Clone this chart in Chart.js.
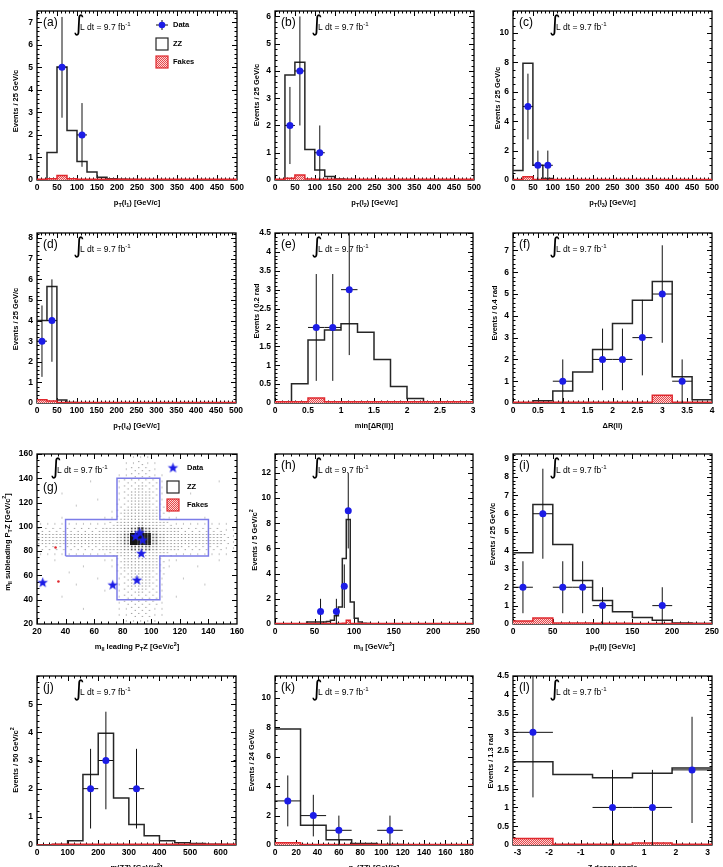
<!DOCTYPE html>
<html lang="en">
<head>
<meta charset="UTF-8">
<title>ZZ candidate kinematic distributions</title>
<script src="https://cdn.jsdelivr.net/npm/chart.js@4.4.1/dist/chart.umd.min.js"></script>
<style>
  body { margin: 0; background: #fff; }
  #page { position: relative; width: 723px; height: 867px; overflow: hidden; background: #fff; }
  #page canvas { position: absolute; }
</style>
</head>
<body>
<div id="page"></div>
<script>
// ---------- data ----------
const ptEdges = [0,25,50,75,100,125,150,175,200,225,250,275,300,325,350,375,400,425,450,475,500];
const ptTicks = [0,50,100,150,200,250,300,350,400,450,500];

// (a) pT(l1)
const aZZ    = [0,1.22,5.02,2.2,0.82,0.35,0.12,0.05,0.03,0.02,0.01,0.01,0.01,0,0,0,0,0,0,0];
const aFakes = [0.03,0.05,0.2,0.05,0.03,0.03,0.03,0.03,0.03,0.03,0.03,0.03,0.03,0.03,0.03,0.03,0.03,0.03,0.03,0.03];
const aDataX = [62.5,112.5];
const aDataY = [5,2];
const aYTicks = [0,1,2,3,4,5,6,7];

// (b) pT(l2)
const bZZ    = [0,3.85,4.32,1.12,0.37,0.13,0.04,0.02,0.01,0.01,0,0,0,0,0,0,0,0,0,0];
const bFakes = [0.03,0.06,0.18,0.04,0.03,0.03,0.03,0.03,0.03,0.03,0.03,0.03,0.03,0.03,0.03,0.03,0.03,0.03,0.03,0.03];
const bDataX = [37.5,62.5,112.5];
const bDataY = [2,4,1];
const bYTicks = [0,1,2,3,4,5,6];

// (c) pT(l3)
const cZZ    = [0.65,7.95,1.0,0.1,0.02,0.01,0,0,0,0,0,0,0,0,0,0,0,0,0,0];
const cFakes = [0.03,0.22,0.04,0.03,0.03,0.03,0.03,0.03,0.03,0.03,0.03,0.03,0.03,0.03,0.03,0.03,0.03,0.03,0.03,0.03];
const cDataX = [37.5,62.5,87.5];
const cDataY = [5,1,1];
const cYTicks = [0,2,4,6,8,10];

// (d) pT(l4)
const dZZ    = [4.0,5.65,0.15,0.02,0.01,0,0,0,0,0,0,0,0,0,0,0,0,0,0,0];
const dFakes = [0.16,0.1,0.03,0.03,0.03,0.03,0.03,0.03,0.03,0.03,0.03,0.03,0.03,0.03,0.03,0.03,0.03,0.03,0.03,0.03];
const dDataX = [12.5,37.5];
const dDataY = [3,4];
const dYTicks = [0,1,2,3,4,5,6,7,8];

// (e) min dR(ll)
const eEdges = [0,0.25,0.5,0.75,1,1.25,1.5,1.75,2,2.25,2.5,2.75,3];
const eZZ    = [0,0.51,1.67,1.93,2.1,1.87,1.15,0.44,0.12,0,0,0];
const eFakes = [0.03,0.03,0.13,0.03,0.03,0.03,0.03,0.03,0.03,0.03,0.03,0.03];
const eDataX = [0.625,0.875,1.125];
const eDataY = [2,2,3];
const eXTicks = [0,0.5,1,1.5,2,2.5,3];
const halfTicks = [0,0.5,1,1.5,2,2.5,3,3.5,4,4.5];

// (f) dR(ll)
const fEdges = [0,0.4,0.8,1.2,1.6,2,2.4,2.8,3.2,3.6,4];
const fZZ    = [0,0.1,0.55,1.42,2.45,3.65,4.72,5.57,1.2,0.15];
const fFakes = [0.03,0.03,0.03,0.03,0.03,0.03,0.03,0.36,0.03,0.03];
const fDataX = [1,1.8,2.2,2.6,3,3.4];
const fDataY = [1,2,2,3,5,1];
const fXTicks = [0,0.5,1,1.5,2,2.5,3,3.5,4];
const fYTicks = [0,1,2,3,4,5,6,7];

// (g) m(ll) subleading vs leading Z
const gTicks = [20,40,60,80,100,120,140,160];
const gDataX = [24,73,90,93,89,92,94];
const gDataY = [54,52,56,78,92,95,89];
const gFakesX = [33,35];
const gFakesY = [83,55];
const gCutX = [40,76,76,106,106,140,140,106,106,76,76,40,40];
const gCutY = [76,76,40,40,76,76,106,106,140,140,106,106,76];
// ZZ expectation, 5 GeV cells, rows from y=155-160 down to y=20-25, columns x=20-25 ... 155-160
const gZZRows = [
  "0000000000000111000000000000",
  "0000000000001121100000000000",
  "0000000000001222100000000000",
  "0000000000011222110000000000",
  "0000000100012222210000000100",
  "0000000000012232210000000000",
  "0001000000012333210001000000",
  "0000000010012333210000000000",
  "0000010000022343220000010000",
  "0000000000123444321000000000",
  "0001000001123444321100010000",
  "1111111111234454432111111110",
  "2222222223345676543322222211",
  "3333333333456998654333333321",
  "3333333333456988654333333321",
  "2222222223345666543322222211",
  "1111111111234454432111111110",
  "0010000001123444321100000100",
  "0000001000123444321000100000",
  "0000100000022343220000000000",
  "0000000010012333210010000000",
  "0000010000012333210000010000",
  "0000000001012232210000000000",
  "0001000000012222210100000000",
  "0000000000012222210000000000",
  "0000001000011222110000000000",
  "0000000000011222110000000000",
  "0000000000001111100000000000"
];

// (h) m(ll)
const hEdges = [0,5,10,15,20,25,30,35,40,45,50,55,60,65,70,75,80,85,90,95,100,105,110,115,120,125,130,135,140,145,150,155,160,165,170,175,180,185,190,195,200,205,210,215,220,225,230,235,240,245,250];
const hZZ    = [0,0,0,0,0,0,0,0,0.15,0.15,0.15,0.15,0.15,0.2,0.3,0.65,1.35,5.2,8.3,1.75,0.45,0.15,0.05,0.03,0.02,0.02,0.02,0.02,0.02,0.02,0.01,0.01,0.01,0.01,0.01,0.01,0.01,0.01,0.01,0.01,0.01,0.01,0.01,0.01,0.01,0.01,0.01,0.01,0.01,0.01];
const hFakes = [0.04,0.04,0.04,0.04,0.04,0.04,0.04,0.04,0.04,0.04,0.04,0.04,0.04,0.04,0.04,0.04,0.04,0.06,0.3,0.04,0.04,0.04,0.04,0.04,0.04,0.04,0.04,0.04,0.04,0.04,0.04,0.04,0.04,0.04,0.04,0.04,0.04,0.04,0.04,0.04,0.04,0.04,0.04,0.04,0.04,0.04,0.04,0.04,0.04,0.04];
const hDataX = [57.5,77.5,87.5,92.5];
const hDataY = [1,1,3,9];
const hXTicks = [0,50,100,150,200,250];
const hYTicks = [0,2,4,6,8,10,12];

// (i) pT(ll)
const iEdges = [0,25,50,75,100,125,150,175,200,225,250];
const iZZ    = [3.88,6.5,4.32,2.37,1.28,0.67,0.35,0.2,0.05,0.03];
const iFakes = [0.17,0.32,0.05,0.05,0.04,0.04,0.03,0.03,0.03,0.03];
const iDataX = [12.5,37.5,62.5,87.5,112.5,187.5];
const iDataY = [2,6,2,2,1,1];
const iYTicks = [0,1,2,3,4,5,6,7,8,9];

// (j) m(ZZ)
const jEdges = [0,50,100,150,200,250,300,350,400,450,500,550,600,650];
const jZZ    = [0,0.02,0.15,2.5,3.97,1.67,0.73,0.33,0.15,0.08,0.05,0.03,0.02];
const jFakes = [0,0.03,0.03,0.03,0.03,0.03,0.03,0.03,0.03,0.03,0.03,0.03,0.03];
const jDataX = [175,225,325];
const jDataY = [2,3,2];
const jXTicks = [0,100,200,300,400,500,600];
const jYTicks = [0,1,2,3,4,5];

// (k) pT(ZZ)
const kEdges = [0,24,48,72,96,120,144,168,192];
const kZZ    = [7.9,1.35,0.35,0.1,0.03,0.02,0.01,0.01];
const kFakes = [0.15,0.03,0.03,0.03,0.03,0.03,0.03,0.03];
const kDataX = [12,36,60,108];
const kDataY = [3,2,1,1];
const kXTicks = [0,20,40,60,80,100,120,140,160,180];
const kYTicks = [0,2,4,6,8,10];

// (l) Z decay angle
const lEdges = [-3.14,-1.88,-0.63,0.63,1.88,3.14];
const lZZ    = [2.22,1.88,1.79,1.91,2.05];
const lFakes = [0.17,0.02,0.02,0.05,0.02];
const lDataX = [-2.51,0,1.26,2.51];
const lDataY = [3,1,1,2];
const lXTicks = [-3,-2,-1,0,1,2,3];

// ---------- styling ----------
const FONT = '"Liberation Sans", Arial, Helvetica, sans-serif';
const BLUE = '#1c1ce6';
const HIST = '#262626';
const RED = '#e0282e';
const CUT = '#7c7ce8';

const panels = [
  {key:'(a)', box:[37,11,237,180], edges:ptEdges, zz:aZZ, fakes:aFakes, dx:aDataX, dy:aDataY,
   xMin:0, xMax:500, yMax:7.5, xTicks:ptTicks, yTicks:aYTicks, xSub:5, ySub:5,
   xTitle:'p_{T}(l_{1}) [GeV/c]', yTitle:'Events / 25 GeV/c', yTitleAt:[-22,90], legend:'hist'},
  {key:'(b)', box:[275,11,474,180], edges:ptEdges, zz:bZZ, fakes:bFakes, dx:bDataX, dy:bDataY,
   xMin:0, xMax:500, yMax:6.2, xTicks:ptTicks, yTicks:bYTicks, xSub:5, ySub:5,
   xTitle:'p_{T}(l_{2}) [GeV/c]', yTitle:'Events / 25 GeV/c', yTitleAt:[-19,84]},
  {key:'(c)', box:[513,11,712,180], edges:ptEdges, zz:cZZ, fakes:cFakes, dx:cDataX, dy:cDataY,
   xMin:0, xMax:500, yMax:11.5, xTicks:ptTicks, yTicks:cYTicks, xSub:5, ySub:4,
   xTitle:'p_{T}(l_{3}) [GeV/c]', yTitle:'Events / 25 GeV/c', yTitleAt:[-16,87]},
  {key:'(d)', box:[37,233,236,403], edges:ptEdges, zz:dZZ, fakes:dFakes, dx:dDataX, dy:dDataY,
   xMin:0, xMax:500, yMax:8.25, xTicks:ptTicks, yTicks:dYTicks, xSub:5, ySub:5,
   xTitle:'p_{T}(l_{4}) [GeV/c]', yTitle:'Events / 25 GeV/c', yTitleAt:[-22,86]},
  {key:'(e)', box:[275,233,473,403], edges:eEdges, zz:eZZ, fakes:eFakes, dx:eDataX, dy:eDataY,
   xMin:0, xMax:3, yMax:4.5, xTicks:eXTicks, yTicks:halfTicks, xSub:5, ySub:5,
   xTitle:'min[\u0394R(ll)]', yTitle:'Events / 0.2 rad', yTitleAt:[-19,78]},
  {key:'(f)', box:[513,233,712,403], edges:fEdges, zz:fZZ, fakes:fFakes, dx:fDataX, dy:fDataY,
   xMin:0, xMax:4, yMax:7.8, xTicks:fXTicks, yTicks:fYTicks, xSub:5, ySub:5,
   xTitle:'\u0394R(ll)', yTitle:'Events / 0.4 rad', yTitleAt:[-19,80]},
  {key:'(g)', box:[37,454,237,624], scatter:true,
   xMin:20, xMax:160, yMin:20, yMax:160, xTicks:gTicks, yTicks:gTicks, xSub:4, ySub:4,
   xTitle:'m_{ll} leading P_{T}Z [GeV/c^{2}]', yTitle:'m_{ll} subleading P_{T}Z [GeV/c^{2}]', yTitleAt:[-30,88],
   keyAt:[6,34], lumiAt:[13,14], legend:'scatter'},
  {key:'(h)', box:[275,454,473,624], edges:hEdges, zz:hZZ, fakes:hFakes, dx:hDataX, dy:hDataY,
   xMin:0, xMax:250, yMax:13.5, xTicks:hXTicks, yTicks:hYTicks, xSub:5, ySub:4,
   xTitle:'m_{ll} [GeV/c^{2}]', yTitle:'Events / 5 GeV/c^{2}', yTitleAt:[-21,86]},
  {key:'(i)', box:[513,454,712,624], edges:iEdges, zz:iZZ, fakes:iFakes, dx:iDataX, dy:iDataY,
   xMin:0, xMax:250, yMax:9.25, xTicks:hXTicks, yTicks:iYTicks, xSub:5, ySub:5,
   xTitle:'p_{T}(ll) [GeV/c]', yTitle:'Events / 25 GeV/c', yTitleAt:[-21,80]},
  {key:'(j)', box:[37,676,236,845], edges:jEdges, zz:jZZ, fakes:jFakes, dx:jDataX, dy:jDataY,
   xMin:0, xMax:650, yMax:6, xTicks:jXTicks, yTicks:jYTicks, xSub:5, ySub:5,
   xTitle:'m(ZZ) [GeV/c^{2}]', yTitle:'Events / 50 GeV/c^{2}', yTitleAt:[-22,84]},
  {key:'(k)', box:[275,676,473,845], edges:kEdges, zz:kZZ, fakes:kFakes, dx:kDataX, dy:kDataY,
   xMin:0, xMax:186, yMax:11.5, xTicks:kXTicks, yTicks:kYTicks, xSub:4, ySub:4,
   xTitle:'p_{T}(ZZ) [GeV/c]', yTitle:'Events / 24 GeV/c', yTitleAt:[-24,84]},
  {key:'(l)', box:[513,676,712,845], edges:lEdges, zz:lZZ, fakes:lFakes, dx:lDataX, dy:lDataY,
   xMin:-3.14, xMax:3.14, yMax:4.5, xTicks:lXTicks, yTicks:halfTicks, xSub:5, ySub:5,
   xTitle:'Z decay angle', yTitle:'Events / 1.3 rad', yTitleAt:[-23,85]}
];

// ---------- helpers ----------
function fakesPattern() {
  const c = document.createElement('canvas');
  c.width = 4; c.height = 4;
  const g = c.getContext('2d');
  g.fillStyle = '#fcd6d6';
  g.fillRect(0, 0, 4, 4);
  g.fillStyle = '#e5484c';
  [[0,0],[2,0],[1,1],[3,1],[0,2],[2,2],[1,3],[3,3]].forEach(([x, y]) => g.fillRect(x, y, 1, 1));
  return g.createPattern(c, 'repeat');
}
const FAKES_FILL = fakesPattern();

function starImage(r, color) {
  const s = Math.ceil(r * 2 + 2);
  const c = document.createElement('canvas');
  c.width = s; c.height = s;
  const g = c.getContext('2d');
  g.fillStyle = color;
  g.beginPath();
  for (let k = 0; k < 10; k++) {
    const rad = k % 2 ? r * 0.42 : r;
    const ang = -Math.PI / 2 + k * Math.PI / 5;
    g.lineTo(s / 2 + rad * Math.cos(ang), s / 2 + rad * Math.sin(ang));
  }
  g.closePath();
  g.fill();
  return c;
}
const STAR = starImage(5.5, BLUE);

// box-style cell for the 2D ZZ expectation (bigger / darker dots = more events)
function cellImage(w) {
  const c = document.createElement('canvas');
  c.width = 7; c.height = 6;
  const g = c.getContext('2d');
  if (w >= 9) { g.fillStyle = '#151515'; g.fillRect(0, 0, 7, 6); return c; }
  g.fillStyle = ['#fff', '#8a8a8a', '#7a7a7a', '#6a6a6a', '#5a5a5a', '#4a4a4a', '#3a3a3a', '#2a2a2a', '#202020'][w];
  const s = [0, 1, 1, 1, 1, 1.2, 1.6, 2.4, 3.2][w];
  const pts = w === 1 ? [[3.5, 3]] : w === 2 ? [[1.75, 1.5], [5.25, 4.5]]
    : [[1.75, 1.5], [5.25, 1.5], [1.75, 4.5], [5.25, 4.5]];
  pts.forEach(([x, y]) => g.fillRect(x - s / 2, y - s / 2, s, s));
  return c;
}
const CELLS = [0,1,2,3,4,5,6,7,8,9].map(cellImage);

function histPoints(edges, vals) {
  const pts = vals.map((v, i) => ({x: edges[i], y: v}));
  pts.push({x: edges[edges.length - 1], y: vals[vals.length - 1]});
  return pts;
}

function richParts(str) {
  const parts = [];
  let i = 0;
  const isMark = j => (str[j] === '_' || str[j] === '^') && str[j + 1] === '{';
  while (i < str.length) {
    if (isMark(i)) {
      const j = str.indexOf('}', i);
      parts.push({t: str.slice(i + 2, j), mode: str[i] === '_' ? 1 : 2});
      i = j + 1;
    } else {
      let j = i;
      while (j < str.length && !isMark(j)) j++;
      parts.push({t: str.slice(i, j), mode: 0});
      i = j;
    }
  }
  return parts;
}

// draws text with _{sub} and ^{sup}; y is the baseline
function drawRich(ctx, str, x, y, size, weight, align) {
  const parts = richParts(str);
  const fontFor = m => `${weight} ${m ? size * 0.72 : size}px ${FONT}`;
  let total = 0;
  parts.forEach(p => { ctx.font = fontFor(p.mode); p.w = ctx.measureText(p.t).width; total += p.w; });
  let cx = align === 'center' ? x - total / 2 : x;
  ctx.textAlign = 'left';
  ctx.textBaseline = 'alphabetic';
  parts.forEach(p => {
    ctx.font = fontFor(p.mode);
    const dy = p.mode === 1 ? size * 0.3 : p.mode === 2 ? -size * 0.45 : 0;
    ctx.fillText(p.t, cx, y + dy);
    cx += p.w;
  });
}

function minorValues(majors, nSub, min, max) {
  const step = (majors[1] - majors[0]) / nSub;
  const out = [];
  let v = majors[0];
  while (v - step >= min - 1e-9) v -= step;
  for (; v <= max + 1e-9; v += step) out.push(v);
  return out;
}

// ---------- drawing plugins ----------
function drawFrame(chart, p) {
  const {ctx, chartArea: a, scales: {x, y}} = chart;
  ctx.save();
  ctx.strokeStyle = '#000';
  ctx.lineWidth = 1;
  ctx.beginPath();
  const xt = (vals, len) => vals.forEach(v => {
    const px = Math.round(x.getPixelForValue(v)) + 0.5;
    if (px < a.left || px > a.right) return;
    ctx.moveTo(px, a.bottom); ctx.lineTo(px, a.bottom - len);
    ctx.moveTo(px, a.top); ctx.lineTo(px, a.top + len);
  });
  const yt = (vals, len) => vals.forEach(v => {
    const py = Math.round(y.getPixelForValue(v)) + 0.5;
    if (py < a.top || py > a.bottom) return;
    ctx.moveTo(a.left, py); ctx.lineTo(a.left + len, py);
    ctx.moveTo(a.right, py); ctx.lineTo(a.right - len, py);
  });
  xt(p.xTicks, 5);
  xt(minorValues(p.xTicks, p.xSub, p.xMin, p.xMax), 2.5);
  yt(p.yTicks, 5);
  yt(minorValues(p.yTicks, p.ySub, p.yMin || 0, p.yMax), 2.5);
  ctx.stroke();
  ctx.lineWidth = 1.3;
  ctx.strokeRect(a.left, a.top, a.right - a.left, a.bottom - a.top);
  ctx.restore();
}

function drawErrors(chart, p) {
  const {ctx, chartArea: a, scales: {x, y}} = chart;
  ctx.save();
  ctx.beginPath();
  ctx.rect(a.left, a.top, a.right - a.left, a.bottom - a.top);
  ctx.clip();
  ctx.strokeStyle = '#111';
  ctx.lineWidth = 1;
  ctx.beginPath();
  p.dx.forEach((xv, i) => {
    const n = p.dy[i];
    const err = Math.sqrt(n);
    let k = 0;
    while (k < p.edges.length - 2 && p.edges[k + 1] <= xv) k++;
    const px = x.getPixelForValue(xv), py = y.getPixelForValue(n);
    ctx.moveTo(px, y.getPixelForValue(n - err));
    ctx.lineTo(px, y.getPixelForValue(n + err));
    ctx.moveTo(x.getPixelForValue(p.edges[k]), py);
    ctx.lineTo(x.getPixelForValue(p.edges[k + 1]), py);
  });
  ctx.stroke();
  ctx.restore();
}

function drawTexts(chart, p) {
  const {ctx, chartArea: a} = chart;
  ctx.save();
  ctx.fillStyle = '#000';
  drawRich(ctx, p.xTitle, (a.left + a.right) / 2, a.bottom + 25, 7.5, 'bold', 'center');

  ctx.save();
  ctx.translate(a.left + p.yTitleAt[0], a.top + p.yTitleAt[1]);
  ctx.rotate(-Math.PI / 2);
  drawRich(ctx, p.yTitle, 0, 2.7, 7.5, 'bold', 'center');
  ctx.restore();

  const key = p.keyAt || [6, 12];
  ctx.font = `12px ${FONT}`;
  ctx.textAlign = 'left';
  ctx.textBaseline = 'middle';
  ctx.fillText(p.key, a.left + key[0], a.top + key[1]);

  const lumi = p.lumiAt || [36, 14];
  const lx = a.left + lumi[0], ly = a.top + lumi[1];
  ctx.font = '22px "DejaVu Sans", sans-serif';
  ctx.textBaseline = 'middle';
  ctx.fillText('\u222B', lx, ly);
  drawRich(ctx, 'L dt = 9.7 fb^{-1}', lx + 7, ly + 4.5, 8.5, 'normal', 'left');

  if (p.legend) drawLegend(ctx, a, p.legend);
  ctx.restore();
}

function drawLegend(ctx, a, kind) {
  const ox = a.left + (kind === 'hist' ? 125 : 136);
  const tx = a.left + (kind === 'hist' ? 136 : 150);
  const boxL = ox - 6;
  ctx.save();
  if (kind === 'hist') {
    ctx.strokeStyle = '#111';
    ctx.lineWidth = 1;
    ctx.beginPath();
    ctx.moveTo(ox - 6, a.top + 14); ctx.lineTo(ox + 6, a.top + 14);
    ctx.moveTo(ox, a.top + 9); ctx.lineTo(ox, a.top + 19);
    ctx.stroke();
    ctx.fillStyle = BLUE;
    ctx.beginPath(); ctx.arc(ox, a.top + 14, 3.3, 0, Math.PI * 2); ctx.fill();
  } else {
    ctx.drawImage(STAR, ox - STAR.width / 2, a.top + 14 - STAR.height / 2);
  }
  ctx.strokeStyle = HIST;
  ctx.lineWidth = 1.2;
  ctx.strokeRect(boxL, a.top + 27, 12, 12);
  ctx.fillStyle = FAKES_FILL;
  ctx.fillRect(boxL, a.top + 45, 12, 12);
  ctx.strokeStyle = RED;
  ctx.strokeRect(boxL, a.top + 45, 12, 12);
  ctx.fillStyle = '#000';
  ctx.font = `bold 7.5px ${FONT}`;
  ctx.textAlign = 'left';
  ctx.textBaseline = 'middle';
  ctx.fillText('Data', tx, a.top + 14);
  ctx.fillText('ZZ', tx, a.top + 33);
  ctx.fillText('Fakes', tx, a.top + 51);
  ctx.restore();
}

// ---------- datasets ----------
function histSets(p) {
  return [
    {label: 'Data', data: p.dx.map((x, i) => ({x, y: p.dy[i]})), showLine: false,
     pointRadius: 3.5, pointBackgroundColor: BLUE, pointBorderWidth: 0},
    {label: 'Fakes', data: histPoints(p.edges, p.fakes), stepped: 'before', pointRadius: 0,
     borderColor: RED, borderWidth: 1.5, fill: 'origin', backgroundColor: FAKES_FILL},
    {label: 'ZZ', data: histPoints(p.edges, p.zz), stepped: 'before', pointRadius: 0,
     borderColor: HIST, borderWidth: 1.5, fill: false}
  ];
}

function scatterSets(p) {
  const cells = [];
  gZZRows.forEach((row, r) => {
    for (let c = 0; c < row.length; c++) {
      const w = +row[c];
      if (w > 0) cells.push({x: 22.5 + 5 * c, y: 157.5 - 5 * r, w});
    }
  });
  return [
    {label: 'Data', data: gDataX.map((x, i) => ({x, y: gDataY[i]})), showLine: false,
     pointStyle: STAR, pointRadius: 5},
    {label: 'Fakes', data: gFakesX.map((x, i) => ({x, y: gFakesY[i]})), showLine: false,
     pointRadius: 1.3, pointBackgroundColor: RED, pointBorderWidth: 0},
    {label: 'Cut', data: gCutX.map((x, i) => ({x, y: gCutY[i]})), pointRadius: 0,
     borderColor: CUT, borderWidth: 1.5, fill: false},
    {label: 'ZZ', data: cells, showLine: false, pointRadius: 3,
     pointStyle: ctx => CELLS[ctx.raw ? ctx.raw.w : 1]}
  ];
}

// ---------- build ----------
const page = document.getElementById('page');
const PADL = 40, PADT = 14, PADR = 12, PADB = 32;

function makePanel(p) {
  const [L, T, R, B] = p.box;
  const w = R - L + PADL + PADR, h = B - T + PADT + PADB;
  const cv = document.createElement('canvas');
  cv.width = w; cv.height = h;
  Object.assign(cv.style, {left: (L - PADL) + 'px', top: (T - PADT) + 'px', width: w + 'px', height: h + 'px'});
  page.appendChild(cv);

  const tickFont = {family: FONT, size: 8.5, weight: 'bold'};
  const axis = (min, max, ticks, isX) => ({
    type: 'linear', min, max,
    grid: {display: false, drawTicks: false},
    border: {display: false},
    ticks: {font: tickFont, color: '#000', padding: isX ? 3 : 4, autoSkip: false, maxRotation: 0,
            callback: v => String(v)},
    afterBuildTicks: s => { s.ticks = ticks.map(v => ({value: v})); },
    afterFit: s => { if (isX) s.height = PADB; else s.width = PADL; }
  });

  new Chart(cv, {
    type: 'line',
    data: {datasets: p.scatter ? scatterSets(p) : histSets(p)},
    options: {
      responsive: false,
      animation: false,
      devicePixelRatio: 1,
      layout: {padding: {left: 0, top: PADT, right: PADR, bottom: 0}},
      plugins: {legend: {display: false}, tooltip: {enabled: false}},
      scales: {
        x: axis(p.xMin, p.xMax, p.xTicks, true),
        y: axis(p.yMin || 0, p.yMax, p.yTicks, false)
      }
    },
    plugins: [{
      id: 'panelDecor',
      beforeDatasetsDraw(chart) { drawFrame(chart, p); },
      beforeDatasetDraw(chart, args) {
        if (!p.scatter && chart.data.datasets[args.index].label === 'Data') drawErrors(chart, p);
      },
      afterDraw(chart) { drawTexts(chart, p); }
    }]
  });
}

panels.forEach(makePanel);
</script>
</body>
</html>
